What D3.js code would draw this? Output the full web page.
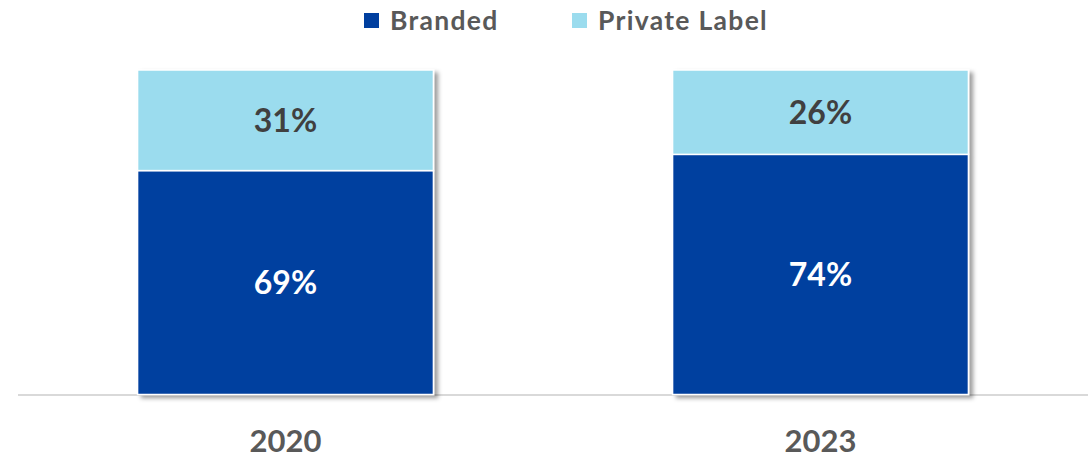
<!DOCTYPE html>
<html>
<head>
<meta charset="utf-8">
<script src="https://cdn.jsdelivr.net/npm/d3@7"></script>
<style>
  html, body { margin: 0; padding: 0; background: #ffffff; }
  svg { display: block; }
  text { font-family: Lato, "Open Sans", sans-serif; font-weight: 700; }
</style>
</head>
<body>
<svg id="chart" width="1088" height="457"></svg>
<script>
// Share of sales by label type, per year (percent)
const years = ["2020", "2023"];
const branded = [69, 74];
const privateLabel = [31, 26];
const seriesNames = ["Branded", "Private Label"];
const seriesColors = ["#003f9f", "#9bdcee"];
const labelColors = ["#ffffff", "#404040"];

const W = 1088, H = 457;
const margin = { left: 18, right: 0, top: 70, bottom: 62 };
const svg = d3.select("#chart");

const defs = svg.append("defs");
const shadow = defs.append("filter").attr("id", "barShadow")
  .attr("x", "-5%").attr("y", "-5%").attr("width", "115%").attr("height", "115%");
shadow.append("feDropShadow")
  .attr("dx", 4).attr("dy", 3).attr("stdDeviation", 2.2)
  .attr("flood-color", "#000").attr("flood-opacity", 0.38);

const x = d3.scaleBand().domain(years)
  .range([margin.left, W - margin.right]).paddingInner(0).paddingOuter(0);
const y = d3.scaleLinear().domain([0, 100]).range([H - margin.bottom - 0.5, margin.top]);
const barW = x.bandwidth() * 0.553;

const stackData = years.map((yr, i) => ({ year: yr, Branded: branded[i], "Private Label": privateLabel[i] }));
const stacked = d3.stack().keys(seriesNames)(stackData);

// baseline
svg.append("line")
  .attr("x1", margin.left).attr("x2", W)
  .attr("y1", y(0) + 0.5).attr("y2", y(0) + 0.5)
  .attr("stroke", "#d9d9d9").attr("stroke-width", 2);

// bars: one group per year so the shadow falls around the full stack
const barGroups = svg.append("g").selectAll("g.bar")
  .data(years).join("g").attr("class", "bar")
  .attr("filter", "url(#barShadow)");

barGroups.each(function(yr, i) {
  const g = d3.select(this);
  stacked.forEach((layer, k) => {
    const d = layer[i];
    g.append("rect")
      .attr("x", x(yr) + (x.bandwidth() - barW) / 2)
      .attr("width", barW)
      .attr("y", y(d[1]))
      .attr("height", y(d[0]) - y(d[1]))
      .attr("fill", seriesColors[k])
      .attr("stroke", "#ffffff").attr("stroke-width", 1.5);
  });
});

// value labels
stacked.forEach((layer, k) => {
  svg.append("g").selectAll("text")
    .data(layer).join("text")
    .attr("x", (d, i) => x(years[i]) + x.bandwidth() / 2)
    .attr("y", d => (y(d[0]) + y(d[1])) / 2)
    .attr("dy", "0.36em")
    .attr("text-anchor", "middle")
    .attr("font-size", 32)
    .attr("fill", labelColors[k])
    .text(d => (d[1] - d[0]) + "%");
});

// category axis
const xAxis = svg.append("g")
  .attr("transform", `translate(0,${y(0)})`)
  .call(d3.axisBottom(x).tickSize(0).tickPadding(35));
xAxis.select(".domain").remove();
xAxis.selectAll("text")
  .attr("font-size", 31).attr("fill", "#595959")
  .attr("font-family", "Lato, sans-serif").attr("font-weight", 700);

// legend
const legendX = [364, 572];
const legend = svg.append("g").selectAll("g")
  .data(seriesNames).join("g")
  .attr("transform", (d, i) => `translate(${legendX[i]},13)`);
legend.append("rect")
  .attr("width", 15).attr("height", 15)
  .attr("fill", (d, i) => seriesColors[i]);
legend.append("text")
  .attr("x", 26).attr("y", 7.5).attr("dy", "0.36em")
  .attr("font-size", 26.5).attr("letter-spacing", 1.3)
  .attr("fill", "#595959")
  .text(d => d);
</script>
</body>
</html>
